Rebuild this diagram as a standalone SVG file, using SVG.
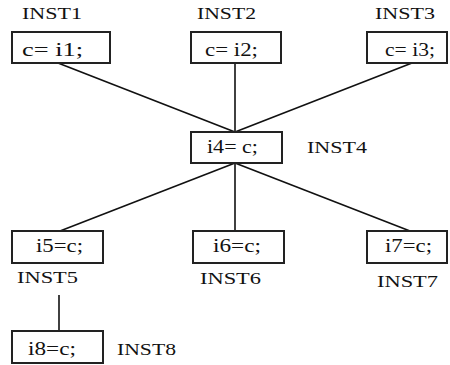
<svg xmlns="http://www.w3.org/2000/svg" width="450" height="365" viewBox="0 0 450 365">
  <style>
    .box { fill: #ffffff; stroke: #222222; stroke-width: 2; }
    .edge { stroke: #111111; stroke-width: 1.6; fill: none; }
    text { font-family: "Liberation Serif", "Times New Roman", Times, serif; fill: #111111; }
    .code { font-size: 18px; }
    .name { font-size: 16px; }
  </style>
  <rect width="450" height="365" fill="#ffffff"/>

  <!-- connectors -->
  <g id="connectors">
    <line class="edge" x1="58" y1="63" x2="235" y2="132"/>
    <line class="edge" x1="235" y1="63" x2="235" y2="132"/>
    <line class="edge" x1="412" y1="63" x2="235" y2="132"/>
    <line class="edge" x1="235" y1="163" x2="60" y2="231"/>
    <line class="edge" x1="235" y1="163" x2="235" y2="231"/>
    <line class="edge" x1="235" y1="163" x2="410" y2="231"/>
    <line class="edge" x1="59" y1="295" x2="59" y2="331"/>
  </g>

  <g id="inst1">
    <text class="name" x="22" y="19" textLength="60" lengthAdjust="spacingAndGlyphs">INST1</text>
    <rect class="box" x="12" y="32" width="98" height="31"/>
    <text class="code" x="22" y="56" textLength="61" lengthAdjust="spacingAndGlyphs">c= i1;</text>
  </g>

  <g id="inst2">
    <text class="name" x="197" y="19" textLength="59" lengthAdjust="spacingAndGlyphs">INST2</text>
    <rect class="box" x="191" y="32" width="90" height="31"/>
    <text class="code" x="205" y="56" textLength="53" lengthAdjust="spacingAndGlyphs">c= i2;</text>
  </g>

  <g id="inst3">
    <text class="name" x="375" y="19" textLength="60" lengthAdjust="spacingAndGlyphs">INST3</text>
    <rect class="box" x="367" y="32" width="80" height="31"/>
    <text class="code" x="385" y="56" textLength="50" lengthAdjust="spacingAndGlyphs">c= i3;</text>
  </g>

  <g id="inst4">
    <rect class="box" x="191" y="132" width="91" height="31"/>
    <text class="code" x="207" y="153" textLength="51" lengthAdjust="spacingAndGlyphs">i4= c;</text>
    <text class="name" x="307" y="153" textLength="60" lengthAdjust="spacingAndGlyphs">INST4</text>
  </g>

  <g id="inst5">
    <rect class="box" x="12" y="231" width="91" height="32"/>
    <text class="code" x="36" y="252" textLength="47" lengthAdjust="spacingAndGlyphs">i5=c;</text>
    <text class="name" x="17" y="283" textLength="61" lengthAdjust="spacingAndGlyphs">INST5</text>
  </g>

  <g id="inst6">
    <rect class="box" x="193" y="231" width="91" height="32"/>
    <text class="code" x="213" y="252" textLength="48" lengthAdjust="spacingAndGlyphs">i6=c;</text>
    <text class="name" x="200" y="284" textLength="61" lengthAdjust="spacingAndGlyphs">INST6</text>
  </g>

  <g id="inst7">
    <rect class="box" x="367" y="231" width="80" height="32"/>
    <text class="code" x="385" y="252" textLength="47" lengthAdjust="spacingAndGlyphs">i7=c;</text>
    <text class="name" x="377" y="287" textLength="61" lengthAdjust="spacingAndGlyphs">INST7</text>
  </g>

  <g id="inst8">
    <rect class="box" x="12" y="331" width="91" height="32"/>
    <text class="code" x="28" y="355" textLength="48" lengthAdjust="spacingAndGlyphs">i8=c;</text>
    <text class="name" x="117" y="355" textLength="59" lengthAdjust="spacingAndGlyphs">INST8</text>
  </g>
</svg>
